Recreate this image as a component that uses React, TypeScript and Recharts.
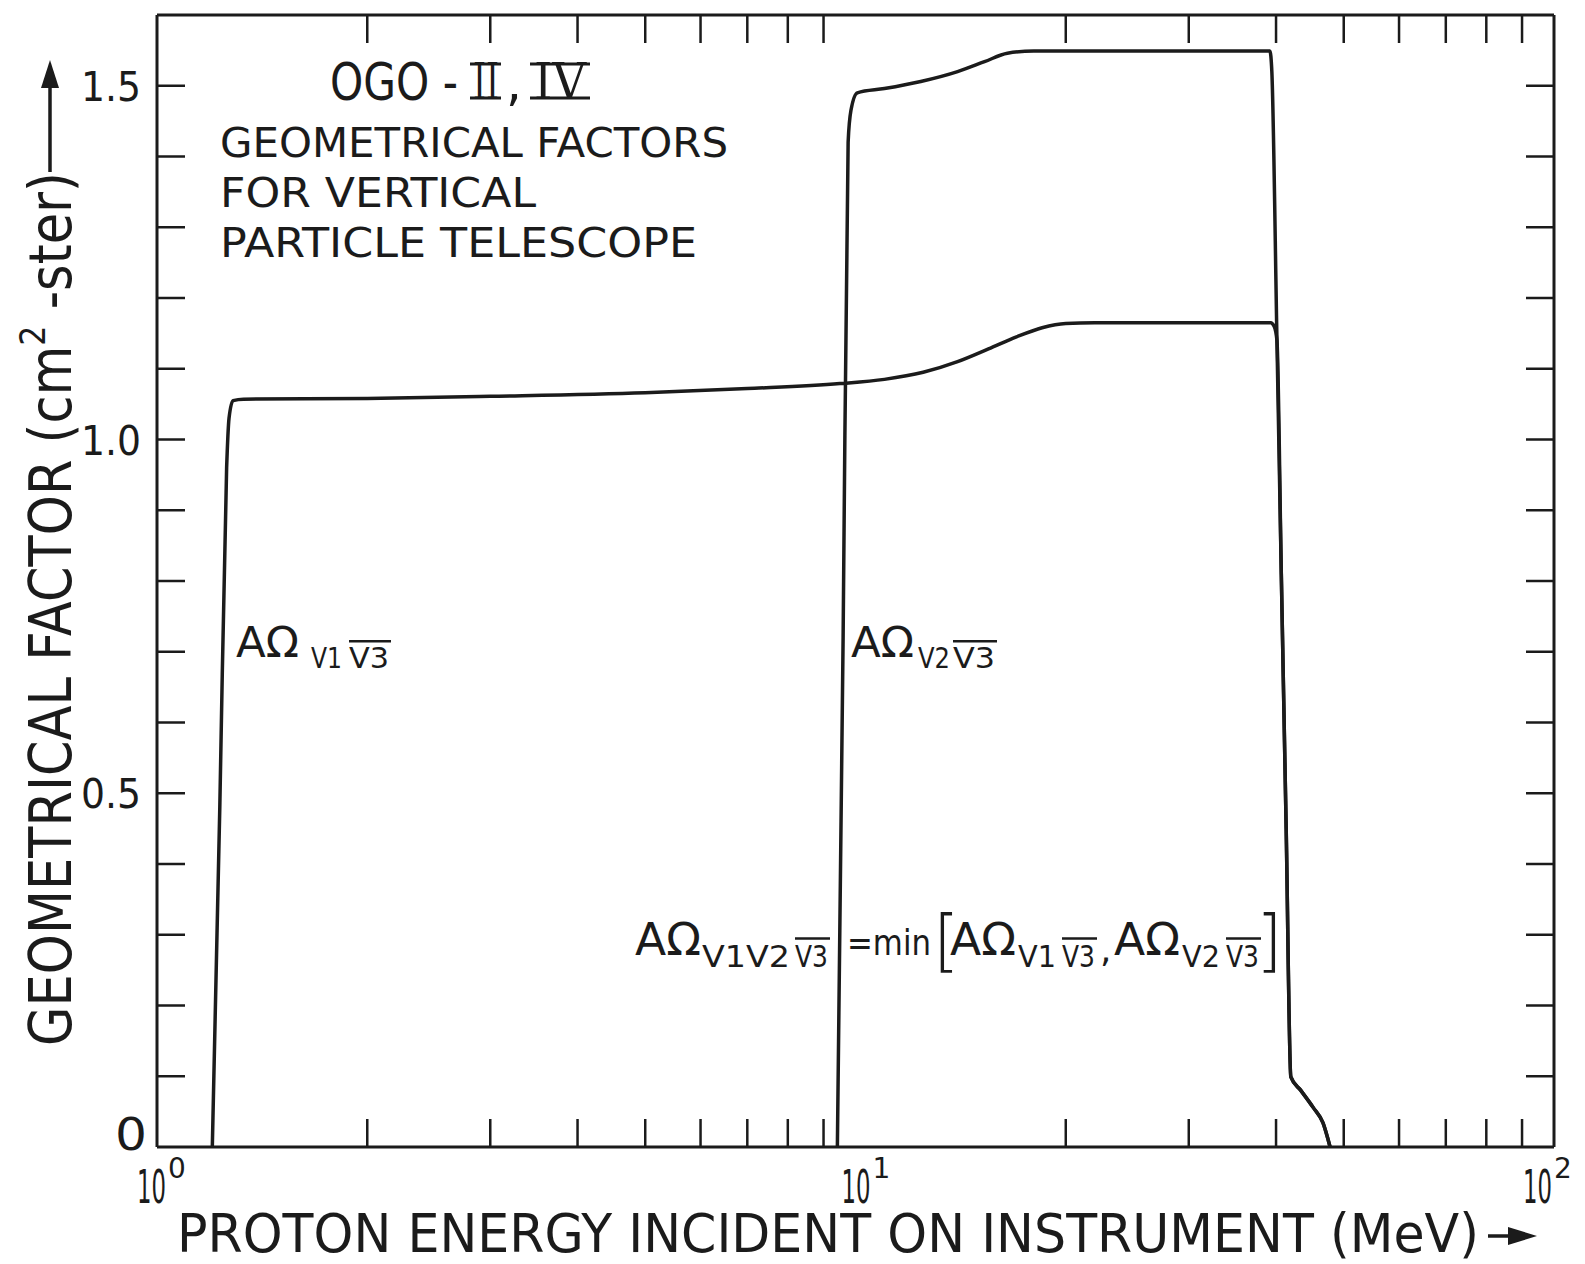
import { LineChart, Line, XAxis, YAxis } from 'recharts';

const INK = '#1b1b1b';
const FONT = "'DejaVu Sans', 'Liberation Sans', sans-serif";

// A-Omega V1 V3bar curve (energy in MeV, geometrical factor in cm2-ster)
const v1v3Energy = [1.2, 1.23, 1.258, 1.268, 1.285, 1.33, 2.0, 3.0, 5.0, 7.0, 9.5, 11, 12.5, 14, 15.5, 17, 18.5, 20, 22, 30, 39.3, 39.75, 40.12, 40.7, 41.36, 42.0, 43.4, 45.2, 46.7, 47.8];
const v1v3Factor = [0, 0.48, 0.96, 1.03, 1.055, 1.057, 1.058, 1.061, 1.066, 1.072, 1.079, 1.085, 1.095, 1.11, 1.128, 1.145, 1.158, 1.164, 1.165, 1.165, 1.165, 1.16, 1.14, 0.81, 0.45, 0.099, 0.08, 0.056, 0.034, 0];

// A-Omega V2 V3bar curve
const v2v3Energy = [9.42, 9.6, 9.76, 9.85, 10.06, 11, 12.4, 14, 15.3, 16.5, 18, 25, 39.2, 39.45, 40.12, 40.7, 41.36, 42.0, 43.4, 45.2, 46.7, 47.8];
const v2v3Factor = [0, 0.72, 1.42, 1.465, 1.49, 1.496, 1.506, 1.52, 1.534, 1.546, 1.549, 1.549, 1.549, 1.52, 1.14, 0.81, 0.45, 0.099, 0.08, 0.056, 0.034, 0];

const xTicks = [1, 2, 3, 4, 5, 6, 7, 8, 9, 10, 20, 30, 40, 50, 60, 70, 80, 90, 100];
const xLabelTicks = [1, 10, 100];
const yTicks = [0, 0.1, 0.2, 0.3, 0.4, 0.5, 0.6, 0.7, 0.8, 0.9, 1.0, 1.1, 1.2, 1.3, 1.4, 1.5];
const yLabels = ['0', '0.5', '1.0', '1.5'];

const v1v3 = v1v3Energy.map((e, i) => ({ e, g: v1v3Factor[i] }));
const v2v3 = v2v3Energy.map((e, i) => ({ e, g: v2v3Factor[i] }));

const TICK = 28;
// hand lettering sits a little off-centre under each decade
const decadeShift: Record<number, number> = { 1: -20, 10: -14, 100: -31 };

const BottomTick = (props: any) => {
  const { x, y, payload } = props;
  const v = payload.value;
  if (xLabelTicks.includes(v)) {
    const exp = Math.round(Math.log10(v));
    const lx = x + decadeShift[v];
    return (
      <g>
        <text x={lx} y={y + 56} fontFamily={FONT} fontSize={46} fill={INK} textLength={29} lengthAdjust="spacingAndGlyphs">10</text>
        <text x={lx + 31} y={y + 31} fontFamily={FONT} fontSize={28} fill={INK}>{exp}</text>
      </g>
    );
  }
  return <line x1={x} y1={y} x2={x} y2={y - TICK} stroke={INK} strokeWidth={2.5} />;
};

const TopTick = (props: any) => {
  const { x, y, payload } = props;
  if (xLabelTicks.includes(payload.value)) return <g />;
  return <line x1={x} y1={y} x2={x} y2={y + TICK} stroke={INK} strokeWidth={2.5} />;
};

const LeftTick = (props: any) => {
  const { x, y, payload } = props;
  const v = payload.value;
  const label = yLabels.find((l) => Math.abs(parseFloat(l) - v) < 1e-6);
  return (
    <g>
      {v > 0 && <line x1={x} y1={y} x2={x + TICK} y2={y} stroke={INK} strokeWidth={2.5} />}
      {label === '0' && (
        <text x={x - 10} y={y + 3} textAnchor="end" fontFamily={FONT} fontSize={44} fill={INK} textLength={32} lengthAdjust="spacingAndGlyphs">0</text>
      )}
      {label && label !== '0' && (
        <text x={x - 16} y={y + 15} textAnchor="end" fontFamily={FONT} fontSize={40} fill={INK} textLength={60} lengthAdjust="spacingAndGlyphs">{label}</text>
      )}
    </g>
  );
};

const RightTick = (props: any) => {
  const { x, y, payload } = props;
  if (payload.value <= 0) return <g />;
  return <line x1={x} y1={y} x2={x - TICK} y2={y} stroke={INK} strokeWidth={2.5} />;
};

const axisLine = { stroke: INK, strokeWidth: 3 };

function Label({ x, y, size, subs }: { x: number; y: number; size: number; subs: { t: string; x: number; w: number; bar?: boolean }[] }) {
  const subSize = size * 0.68;
  const subY = y + size * 0.27;
  return (
    <g fill={INK} fontFamily={FONT}>
      <text x={x} y={y} fontSize={size} textLength={size * 1.5} lengthAdjust="spacingAndGlyphs">AΩ</text>
      {subs.map((s) => (
        <g key={s.t + s.x}>
          <text x={s.x} y={subY} fontSize={subSize} textLength={s.w} lengthAdjust="spacingAndGlyphs">{s.t}</text>
          {s.bar && <line x1={s.x} x2={s.x + s.w + 2} y1={subY - subSize * 0.95} y2={subY - subSize * 0.95} stroke={INK} strokeWidth={2.5} />}
        </g>
      ))}
    </g>
  );
}

function Annotations() {
  return (
    <svg width={1585} height={1264} style={{ position: 'absolute', left: 0, top: 0, pointerEvents: 'none' }}>
      {/* title block */}
      <g fill={INK} fontFamily={FONT}>
        <text x={330} y={100} fontSize={52} textLength={128} lengthAdjust="spacingAndGlyphs">OGO -</text>
        <text x={473} y={99} fontSize={50} fontFamily="'DejaVu Serif', serif" textLength={26} lengthAdjust="spacingAndGlyphs">II</text>
        <line x1={470} x2={501} y1={64} y2={64} stroke={INK} strokeWidth={3} />
        <line x1={470} x2={501} y1={98} y2={98} stroke={INK} strokeWidth={3} />
        <text x={506} y={100} fontSize={50}>,</text>
        <text x={534} y={99} fontSize={50} fontFamily="'DejaVu Serif', serif" textLength={52} lengthAdjust="spacingAndGlyphs">IV</text>
        <line x1={530} x2={590} y1={64} y2={64} stroke={INK} strokeWidth={3} />
        <line x1={530} x2={590} y1={98} y2={98} stroke={INK} strokeWidth={3} />
        <text x={220} y={157} fontSize={41} textLength={508} lengthAdjust="spacingAndGlyphs">GEOMETRICAL FACTORS</text>
        <text x={220} y={207} fontSize={41} textLength={316} lengthAdjust="spacingAndGlyphs">FOR VERTICAL</text>
        <text x={220} y={257} fontSize={41} textLength={477} lengthAdjust="spacingAndGlyphs">PARTICLE TELESCOPE</text>
      </g>

      <Label x={236} y={657} size={42} subs={[{ t: 'V1', x: 311, w: 31 }, { t: 'V3', x: 349, w: 40, bar: true }]} />
      <Label x={851} y={657} size={42} subs={[{ t: 'V2', x: 918, w: 32 }, { t: 'V3', x: 953, w: 42, bar: true }]} />

      {/* formula */}
      <Label x={635} y={955} size={44} subs={[{ t: 'V1V2', x: 702, w: 88 }, { t: 'V3', x: 795, w: 33, bar: true }]} />
      <g fill={INK} fontFamily={FONT}>
        <text x={847} y={955} fontSize={36} textLength={84} lengthAdjust="spacingAndGlyphs">=min</text>
        <text x={933} y={964} fontSize={68} fontWeight={300}>[</text>
        <text x={1256} y={964} fontSize={68} fontWeight={300}>]</text>
        <text x={1100} y={962} fontSize={36}>,</text>
      </g>
      <Label x={950} y={955} size={44} subs={[{ t: 'V1', x: 1018, w: 38 }, { t: 'V3', x: 1062, w: 33, bar: true }]} />
      <Label x={1114} y={955} size={44} subs={[{ t: 'V2', x: 1182, w: 38 }, { t: 'V3', x: 1226, w: 33, bar: true }]} />

      {/* axis titles */}
      <g fill={INK} fontFamily={FONT}>
        <text x={177} y={1252} fontSize={54} textLength={1302} lengthAdjust="spacingAndGlyphs">PROTON ENERGY INCIDENT ON INSTRUMENT (MeV)</text>
        <line x1={1488} x2={1515} y1={1236} y2={1236} stroke={INK} strokeWidth={3.5} />
        <polygon points="1537,1236 1508,1227 1508,1245" fill={INK} />
        <text transform="translate(71,1046) rotate(-90)" fontSize={58} textLength={874} lengthAdjust="spacingAndGlyphs">
          GEOMETRICAL FACTOR (cm<tspan fontSize={36} dy={-26}>2</tspan><tspan dy={26}> -ster)</tspan>
        </text>
        <line x1={50} x2={50} y1={172} y2={80} stroke={INK} strokeWidth={3.5} />
        <polygon points="50,60 41,88 59,88" fill={INK} />
      </g>
    </svg>
  );
}

export default function App() {
  return (
    <div style={{ position: 'absolute', left: 0, top: 0, width: 1585, height: 1264, background: '#fff' }}>
      <LineChart width={1585} height={1264} margin={{ top: 14, right: 30, bottom: 116, left: 156 }}>
        <XAxis xAxisId="b" dataKey="e" type="number" scale="log" domain={[1, 100]} allowDataOverflow ticks={xTicks} interval={0}
          height={1} tickSize={0} tickMargin={0} tickLine={false} axisLine={axisLine} tick={<BottomTick />} />
        <XAxis xAxisId="t" orientation="top" dataKey="e" type="number" scale="log" domain={[1, 100]} allowDataOverflow ticks={xTicks} interval={0}
          height={1} tickSize={0} tickMargin={0} tickLine={false} axisLine={axisLine} tick={<TopTick />} />
        <YAxis yAxisId="l" type="number" domain={[0, 1.6]} allowDataOverflow ticks={yTicks} interval={0}
          width={1} tickSize={0} tickMargin={0} tickLine={false} axisLine={axisLine} tick={<LeftTick />} />
        <YAxis yAxisId="r" orientation="right" type="number" domain={[0, 1.6]} allowDataOverflow ticks={yTicks} interval={0}
          width={1} tickSize={0} tickMargin={0} tickLine={false} axisLine={axisLine} tick={<RightTick />} />
        <Line xAxisId="b" yAxisId="l" data={v1v3} dataKey="g" type="monotoneX" stroke={INK} strokeWidth={3.5} dot={false} isAnimationActive={false} />
        <Line xAxisId="b" yAxisId="l" data={v2v3} dataKey="g" type="monotoneX" stroke={INK} strokeWidth={3.5} dot={false} isAnimationActive={false} />
      </LineChart>
      <Annotations />
    </div>
  );
}
